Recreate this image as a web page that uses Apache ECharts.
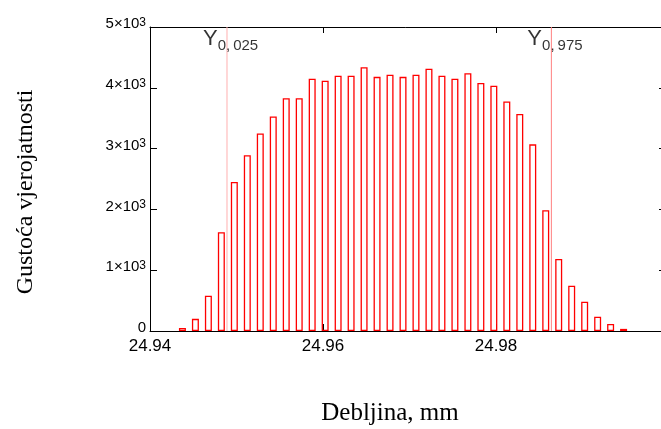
<!DOCTYPE html>
<html><head><meta charset="utf-8">
<script src="https://cdn.jsdelivr.net/npm/echarts@6/dist/echarts.min.js"></script>
<style>html,body{margin:0;padding:0;background:#fff}#c{width:661px;height:429px}</style>
</head><body><div id="c"></div>
<script>
const binCenters = [24.94375, 24.94525, 24.94675, 24.94825, 24.94975, 24.95125, 24.95275, 24.95425,
  24.95575, 24.95725, 24.95875, 24.96025, 24.96175, 24.96325, 24.96475, 24.96625, 24.96775,
  24.96925, 24.97075, 24.97225, 24.97375, 24.97525, 24.97675, 24.97825, 24.97975, 24.98125,
  24.98275, 24.98425, 24.98575, 24.98725, 24.98875, 24.99025, 24.99175, 24.99325, 24.99475];
const density = [50, 200, 580, 1625, 2450, 2890, 3250, 3530, 3830, 3830, 4150, 4115, 4200, 4200,
  4340, 4180, 4215, 4180, 4215, 4315, 4200, 4150, 4240, 4080, 4035, 3775, 3570, 3070, 1985,
  1185, 745, 480, 235, 115, 35];
const xTickValues = [24.94, 24.96, 24.98, 25.00];
const yTickValues = [0, 1000, 2000, 3000, 4000, 5000];
const quantileX = [24.9489, 24.9864];
const quantileNames = ['0,', '0,'];
const quantileDigits = ['025', '975'];
const quantileColors = ['#ffb0b0', '#ff8080'];
const xTitle = 'Debljina, mm';
const yTitle = 'Gustoća vjerojatnosti';

const sans = '"Liberation Sans", Arial, sans-serif';
const serif = '"Liberation Serif", "Times New Roman", serif';

const chart = echarts.init(document.getElementById('c'), null, {renderer: 'canvas'});
const xMin = xTickValues[0], xMax = xTickValues[xTickValues.length - 1];
const yMin = yTickValues[0], yMax = yTickValues[yTickValues.length - 1];
const axisLine = {show: true, onZero: false, lineStyle: {color: '#000', width: 1}};

const quantileLineSeries = quantileX.map((q, i) => ({
  type: 'line', xAxisIndex: 0, yAxisIndex: 0, silent: true, symbol: 'none', z: 1,
  data: [[q, yMin], [q, yMax]],
  lineStyle: {color: quantileColors[i], width: 1, type: 'solid'},
  emphasis: {disabled: true}
}));

const option = {
  animation: false,
  grid: {left: 150, top: 27, width: 519, height: 304, containLabel: false, outerBoundsMode: 'none'},
  xAxis: [
    {type: 'value', min: xMin, max: xMax, interval: 0.02, position: 'bottom',
     axisLine, axisTick: {show: true, inside: true, length: 7, lineStyle: {color: '#000'}},
     splitLine: {show: false},
     axisLabel: {show: true, margin: 7, color: '#000', fontSize: 17, fontFamily: sans,
       hideOverlap: false, showMaxLabel: false, formatter: v => v.toFixed(2)}},
    {type: 'value', min: xMin, max: xMax, interval: 0.02, position: 'top',
     axisLine, axisTick: {show: true, inside: true, length: 6, lineStyle: {color: '#000'}},
     splitLine: {show: false}, axisLabel: {show: false}}
  ],
  yAxis: [
    {type: 'value', min: yMin, max: yMax, interval: 1000, position: 'left',
     axisLine, axisTick: {show: true, inside: true, length: 7, lineStyle: {color: '#000'}},
     splitLine: {show: false},
     axisLabel: {show: true, margin: 4, color: '#000', fontSize: 15, fontFamily: sans, padding: [0, 0, 6, 0],
       formatter: v => v === 0 ? '{z|0}' : '{m|' + (v / 1000) + '×10}{e|3}',
       rich: {
         z: {fontSize: 15, fontFamily: sans, color: '#000'},
         m: {fontSize: 15, fontFamily: sans, color: '#000', lineHeight: 15, padding: [6, 0, 0, 0], verticalAlign: 'bottom'},
         e: {fontSize: 12, fontFamily: sans, color: '#000', lineHeight: 12, padding: [0, 0, 9, 0], verticalAlign: 'top'}
       }}},
    {type: 'value', min: yMin, max: yMax, interval: 1000, position: 'right',
     axisLine, axisTick: {show: true, inside: true, length: 10, lineStyle: {color: '#000'}},
     splitLine: {show: false}, axisLabel: {show: false}}
  ],
  series: [
    ...quantileLineSeries,
    {type: 'bar', xAxisIndex: 0, yAxisIndex: 0, barWidth: 7, z: 2,
     data: binCenters.map((x, i) => [x, density[i]]),
     itemStyle: {color: 'rgba(255,255,255,0)', borderColor: '#ff0000', borderWidth: 1.3},
     emphasis: {disabled: true}},
    {type: 'scatter', xAxisIndex: 0, yAxisIndex: 0, symbolSize: 0, silent: true, z: 3,
     data: quantileX.map(x => [x, 4745]),
     label: {show: true, position: 'inside', align: 'left', verticalAlign: 'middle', offset: [-24, 0],
       color: '#000', fontSize: 15, fontFamily: sans,
       formatter: p => '{y|Y}{s|' + quantileNames[p.dataIndex] + '}{d|' + quantileDigits[p.dataIndex] + '}',
       rich: {
         y: {fontSize: 22, fontFamily: sans, color: '#000', lineHeight: 22, padding: [0, 0, 4, 0], verticalAlign: 'bottom'},
         s: {fontSize: 15, fontFamily: sans, color: '#000', lineHeight: 15, verticalAlign: 'bottom'},
         d: {fontSize: 15, fontFamily: sans, color: '#000', lineHeight: 15, verticalAlign: 'bottom', padding: [0, 0, 0, 3]}
       }}}
  ],
  graphic: [
    {type: 'text', x: 26, y: 192, rotation: Math.PI / 2,
     style: {text: yTitle, fontSize: 24, fontFamily: serif, fill: '#000', align: 'center', verticalAlign: 'middle'}},
    {type: 'text', x: 390, y: 413,
     style: {text: xTitle, fontSize: 25, fontFamily: serif, fill: '#000', align: 'center', verticalAlign: 'middle'}}
  ]
};
chart.setOption(option);
</script>
</body></html>
